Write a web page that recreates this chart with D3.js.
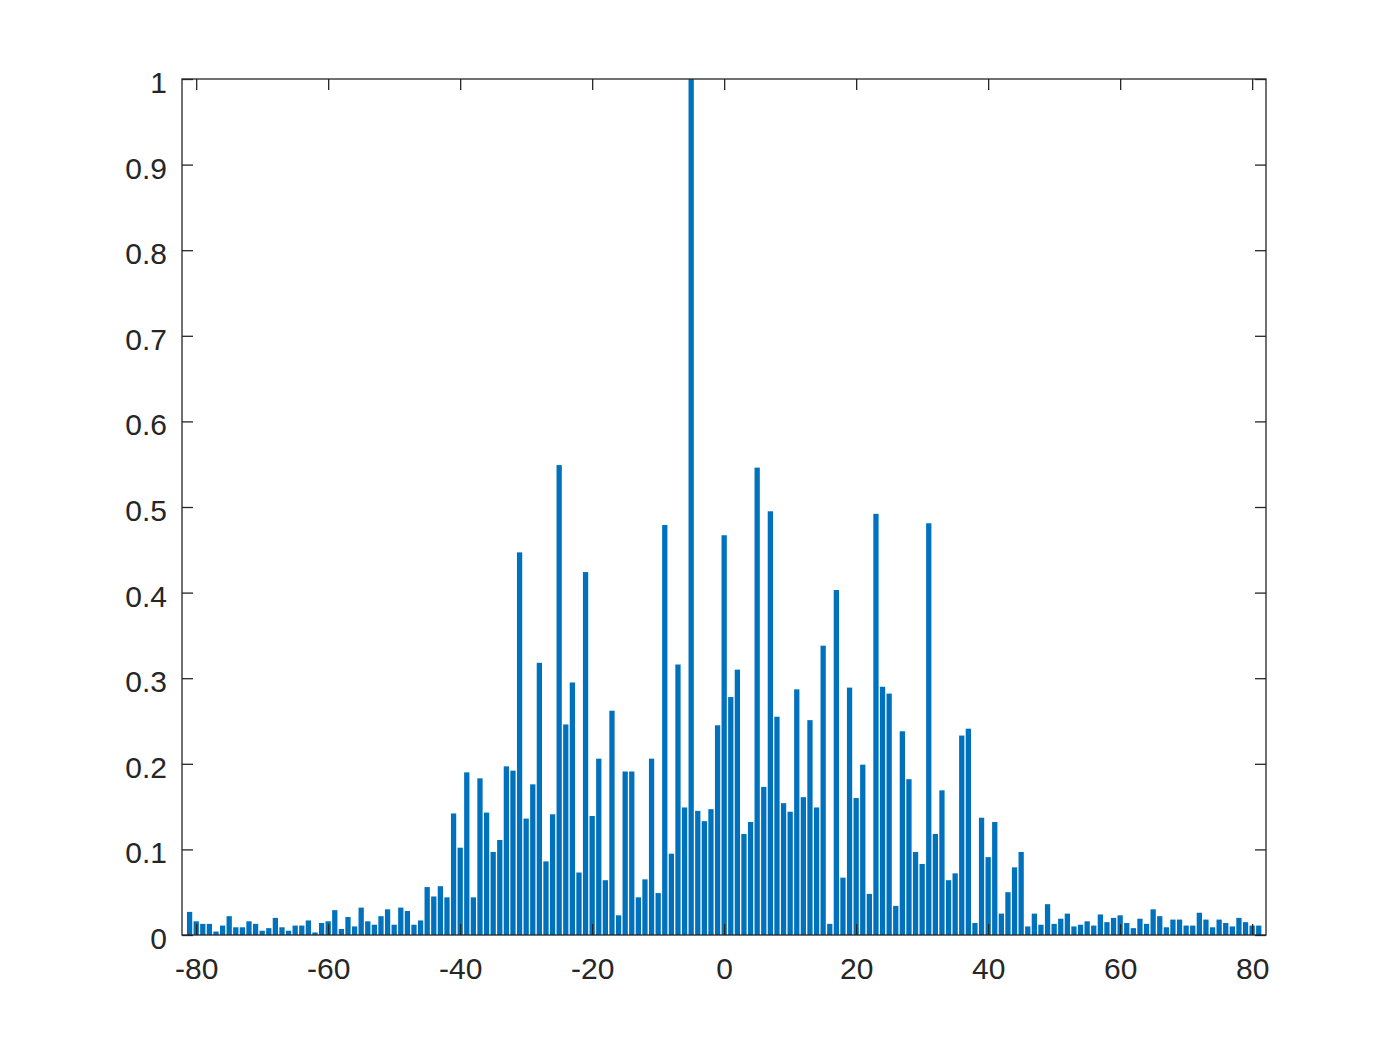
<!DOCTYPE html>
<html>
<head>
<meta charset="utf-8">
<script src="https://cdn.jsdelivr.net/npm/d3@7"></script>
<style>
    html, body { margin: 0; padding: 0; background: #ffffff; }
    .graphRegion text { font-family: "Liberation Sans", Arial, Helvetica, sans-serif; fill: #262626; }
</style>
</head>
<body>
<div class="graphRegion"></div>
<script>
(function () {

    /**
     * lag positions of the bars
     */
    var lags = d3.range(-81, 82);

    /**
     * normalised magnitude for lags -81 .. -1
     */
    var magnitudeNeg = [
        0.027, 0.016, 0.013, 0.013, 0.004, 0.011, 0.022, 0.009, 0.009, 0.016,
        0.013, 0.005, 0.008, 0.020, 0.009, 0.005, 0.011, 0.011, 0.017, 0.003,
        0.014, 0.016, 0.029, 0.007, 0.021, 0.010, 0.032, 0.016, 0.012, 0.022,
        0.030, 0.012, 0.032, 0.028, 0.012, 0.017, 0.056, 0.045, 0.057, 0.044,
        0.142, 0.102, 0.190, 0.044, 0.183, 0.143, 0.097, 0.111, 0.197, 0.192,
        0.447, 0.136, 0.176, 0.318, 0.086, 0.141, 0.549, 0.246, 0.295, 0.073,
        0.424, 0.139, 0.206, 0.064, 0.262, 0.023, 0.191, 0.191, 0.044, 0.065,
        0.206, 0.049, 0.479, 0.095, 0.316, 0.149, 1.000, 0.145, 0.133, 0.147,
        0.245
    ];

    /**
     * normalised magnitude for lags 0 .. 81
     */
    var magnitudePos = [
        0.467, 0.278, 0.310, 0.118, 0.132, 0.546, 0.173, 0.495, 0.255, 0.154,
        0.144, 0.287, 0.161, 0.251, 0.149, 0.338, 0.013, 0.403, 0.067, 0.289,
        0.160, 0.199, 0.048, 0.492, 0.290, 0.282, 0.034, 0.238, 0.182, 0.097,
        0.083, 0.481, 0.118, 0.169, 0.064, 0.072, 0.233, 0.241, 0.014, 0.137,
        0.091, 0.132, 0.025, 0.050, 0.079, 0.097, 0.010, 0.025, 0.012, 0.036,
        0.013, 0.019, 0.025, 0.010, 0.012, 0.016, 0.011, 0.024, 0.015, 0.020,
        0.023, 0.014, 0.008, 0.019, 0.013, 0.030, 0.022, 0.009, 0.018, 0.018,
        0.011, 0.011, 0.026, 0.018, 0.009, 0.018, 0.014, 0.010, 0.020, 0.015,
        0.011, 0.011
    ];

    var xTicks = [-80, -60, -40, -20, 0, 20, 40, 60, 80];
    var yTicks = [0, 0.1, 0.2, 0.3, 0.4, 0.5, 0.6, 0.7, 0.8, 0.9, 1];

    var graphData = magnitudeNeg.concat(magnitudePos).map(function (value, index) {
        return {lag: lags[index], value: value};
    });

    var totalWidth = 1400;
    var totalHeight = 1050;
    var margin = {top: 79, right: 134, bottom: 115, left: 182};
    var width = totalWidth - margin.left - margin.right;
    var height = totalHeight - margin.top - margin.bottom;
    var tickSize = 11;
    var axisColor = '#262626';
    var barColor = '#0072BD';
    var fontSize = '30px';

    var svg = d3.select('.graphRegion').append('svg')
        .attr('width', totalWidth)
        .attr('height', totalHeight)
        .append('g')
        .attr('transform', 'translate(' + margin.left + ',' + margin.top + ')');

    /**
     * set ranges
     */
    var x = d3.scaleLinear().domain([-82.15, 82.1]).range([0, width]);
    var y = d3.scaleLinear().domain([0, 1]).range([height, 0]);
    var barWidth = (x(1) - x(0)) * 0.8;

    /**
     * append the rectangles to the chart
     */
    svg.append('g').selectAll('.bar')
        .data(graphData)
        .enter().append('rect')
        .attr('class', 'bar')
        .attr('x', function (data) {
            return x(data.lag) - barWidth / 2;
        })
        .attr('width', barWidth)
        .attr('y', function (data) {
            return y(data.value);
        })
        .attr('height', function (data) {
            return height - y(data.value);
        })
        .style('fill', barColor);

    var xFormat = function (d) {
        return d < 0 ? '-' + (-d) : String(d);
    };
    var yFormat = d3.format('~g');

    /**
     * styles an axis group: inward ticks, thin dark lines
     */
    var styleAxis = function (g) {
        g.select('.domain').remove();
        g.selectAll('.tick line').attr('stroke', axisColor).attr('stroke-width', 1.3);
    };

    /**
     * x axis, bottom and top
     */
    var xBottom = svg.append('g')
        .attr('transform', 'translate(0,' + height + ')')
        .call(d3.axisBottom(x).tickValues(xTicks).tickFormat(xFormat)
            .tickSizeInner(-tickSize).tickSizeOuter(0).tickPadding(23))
        .call(styleAxis);
    xBottom.selectAll('text')
        .attr('font-size', fontSize)
        .attr('dy', '0.71em')
        .style('fill', axisColor);

    svg.append('g')
        .call(d3.axisTop(x).tickValues(xTicks).tickFormat('')
            .tickSizeInner(-tickSize).tickSizeOuter(0))
        .call(styleAxis);

    /**
     * y axis, left and right
     */
    var yLeft = svg.append('g')
        .call(d3.axisLeft(y).tickValues(yTicks).tickFormat(yFormat)
            .tickSizeInner(-tickSize).tickSizeOuter(0).tickPadding(15))
        .call(styleAxis);
    yLeft.selectAll('text')
        .attr('font-size', fontSize)
        .attr('dy', '0.45em')
        .style('fill', axisColor);

    svg.append('g')
        .attr('transform', 'translate(' + width + ',0)')
        .call(d3.axisRight(y).tickValues(yTicks).tickFormat('')
            .tickSizeInner(-tickSize).tickSizeOuter(0))
        .call(styleAxis);

    /**
     * box around the plot area
     */
    svg.append('rect')
        .attr('x', 0)
        .attr('y', 0)
        .attr('width', width)
        .attr('height', height)
        .attr('fill', 'none')
        .attr('stroke', axisColor)
        .attr('stroke-width', 1.3);

})();
</script>
</body>
</html>
